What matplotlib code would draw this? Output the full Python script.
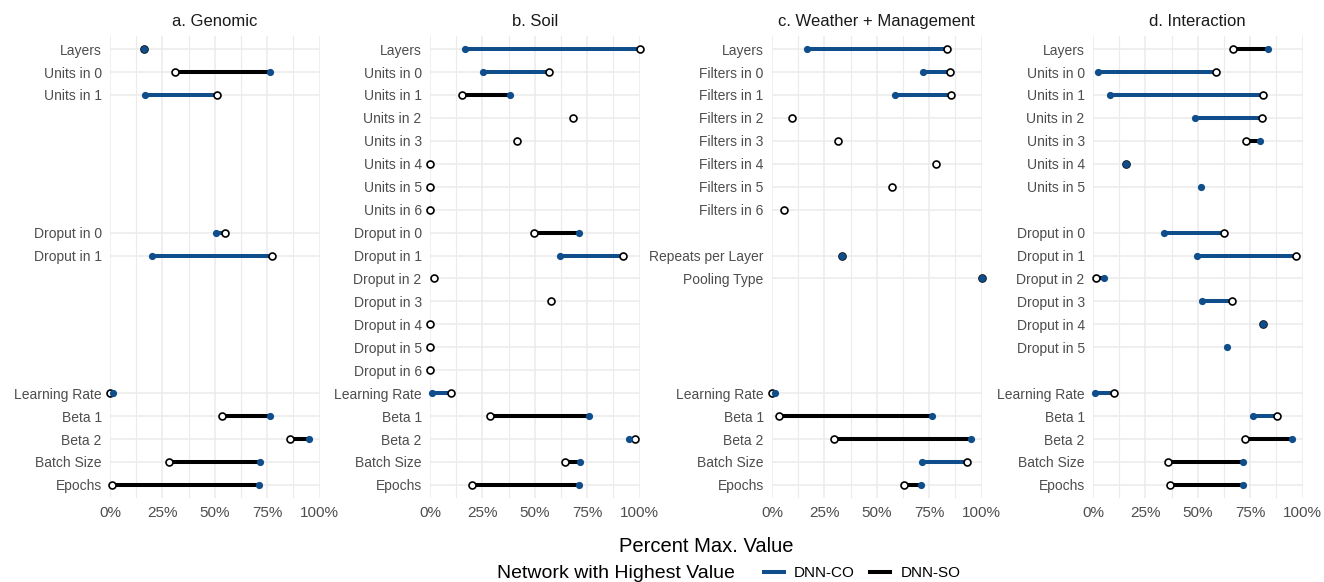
import numpy as np
import matplotlib
matplotlib.use("Agg")
import matplotlib.pyplot as plt
from matplotlib.lines import Line2D
from matplotlib.ticker import FixedLocator, PercentFormatter

plt.rcParams['font.family'] = ['Liberation Sans', 'DejaVu Sans']

BLUE = '#104E8B'
GRID = '#EBEBEB'

# shared row slots (categorical y scale, same for every panel)
SLOTS = (['layers'] + ['size%d' % i for i in range(7)] + ['reg%d' % i for i in range(7)]
         + ['lr', 'beta1', 'beta2', 'batch', 'epochs'])
OPT_SLOTS = ['lr', 'beta1', 'beta2', 'batch', 'epochs']
OPT_LABELS = ['Learning Rate', 'Beta 1', 'Beta 2', 'Batch Size', 'Epochs']
nan = np.nan

# a. Genomic
gen_slots = ['layers', 'size0', 'size1', 'reg0', 'reg1'] + OPT_SLOTS
gen_labels = ['Layers', 'Units in 0', 'Units in 1', 'Droput in 0', 'Droput in 1'] + OPT_LABELS
gen_co = [16.4, 31.0, 51.2, 54.7, 77.2, 0.0, 53.3, 86.1, 28.3, 1.1]
gen_so = [16.4, 76.4, 16.7, 50.6, 20.0, 1.3, 76.1, 95.0, 71.6, 71.3]

# b. Soil
soil_slots = ['layers'] + ['size%d' % i for i in range(7)] + ['reg%d' % i for i in range(7)] + OPT_SLOTS
soil_labels = (['Layers'] + ['Units in %d' % i for i in range(7)]
               + ['Droput in %d' % i for i in range(7)] + OPT_LABELS)
soil_co = [100, 56.7, 15.1, 68.4, 41.7, 0, 0, 0, 49.5, 92.1, 1.9, 57.8, 0, 0, 0,
           10.0, 28.6, 97.8, 64.3, 19.8]
soil_so = [16.7, 25.1, 38.4, nan, nan, nan, nan, nan, 71.1, 61.9, nan, nan, nan, nan, nan,
           1.0, 76.0, 94.8, 71.4, 71.1]

# c. Weather + Management
wm_slots = ['layers'] + ['size%d' % i for i in range(7)] + ['reg1', 'reg2'] + OPT_SLOTS
wm_labels = (['Layers'] + ['Filters in %d' % i for i in range(7)]
             + ['Repeats per Layer', 'Pooling Type'] + OPT_LABELS)
wm_co = [83.6, 84.9, 85.4, 9.4, 31.4, 78.2, 57.4, 5.8, 33.6, 100, 0.0, 3.5, 29.5, 93.1, 63.0]
wm_so = [16.6, 72.2, 58.9, nan, nan, nan, nan, nan, 33.6, 100, 1.2, 76.2, 95.0, 71.5, 71.3]

# d. Interaction
int_slots = ['layers'] + ['size%d' % i for i in range(6)] + ['reg%d' % i for i in range(6)] + OPT_SLOTS
int_labels = (['Layers'] + ['Units in %d' % i for i in range(6)]
              + ['Droput in %d' % i for i in range(6)] + OPT_LABELS)
int_co = [66.7, 58.9, 80.9, 80.6, 73.2, 15.9, nan, 62.4, 97.0, 1.4, 66.2, 81.0, nan,
          9.9, 87.9, 72.6, 35.8, 36.6]
int_so = [83.6, 2.4, 8.3, 48.6, 79.6, 15.9, 51.7, 34.1, 49.4, 5.1, 52.2, 81.0, 63.7,
          0.8, 76.1, 95.1, 71.8, 71.5]

panels = [
    ('a. Genomic', gen_slots, gen_labels, gen_co, gen_so),
    ('b. Soil', soil_slots, soil_labels, soil_co, soil_so),
    ('c. Weather + Management', wm_slots, wm_labels, wm_co, wm_so),
    ('d. Interaction', int_slots, int_labels, int_co, int_so),
]

W, H = 1324, 582
fig = plt.figure(figsize=(W / 100, H / 100), dpi=100)
lefts = [110, 430, 772, 1093]
pw = 209.6
top, bot = 36, 498

for left, (title, slots, labels, co, so) in zip(lefts, panels):
    ax = fig.add_axes([left / W, 1 - bot / H, pw / W, (bot - top) / H])
    y = np.array([SLOTS.index(s) for s in slots])
    co = np.array(co, dtype=float)
    so = np.array(so, dtype=float)

    # segment coloured by the network with the higher value
    for yi, c, s in zip(y, co, so):
        if np.isnan(c) or np.isnan(s):
            continue
        col = BLUE if c > s else 'black'
        ax.plot([c, s], [yi, yi], color=col, lw=2.9, solid_capstyle='butt', zorder=2)

    ax.plot(co, y, 'o', ms=5.0, mfc='white', mec='black', mew=1.2, ls='none',
            zorder=3, clip_on=False)
    ax.plot(so, y, 'o', ms=5.2, mfc=BLUE, mec='none', ls='none',
            zorder=4, clip_on=False)

    ax.set_xlim(0, 100)
    ax.set_ylim(len(SLOTS) - 1 + 0.57, -0.57)
    ax.set_yticks(y)
    ax.set_yticklabels(labels)
    ax.xaxis.set_major_locator(FixedLocator([0, 25, 50, 75, 100]))
    ax.xaxis.set_minor_locator(FixedLocator([12.5, 37.5, 62.5, 87.5]))
    ax.xaxis.set_major_formatter(PercentFormatter(decimals=0))
    ax.grid(True, which='major', color=GRID, lw=1.1, zorder=0)
    ax.grid(True, which='minor', axis='x', color=GRID, lw=0.8, zorder=0)
    ax.set_axisbelow(True)
    for sp in ax.spines.values():
        sp.set_visible(False)
    ax.tick_params(axis='both', which='both', length=0)
    ax.tick_params(axis='y', labelsize=10, labelcolor='#4D4D4D', pad=6)
    ax.tick_params(axis='x', labelsize=11, labelcolor='#4D4D4D', pad=6)
    ax.set_title(title, fontsize=12, color='#1A1A1A', pad=7)

fig.text(706 / W, 1 - 547 / H, 'Percent Max. Value', ha='center', va='center', fontsize=14.5)
fig.text(735 / W, 1 - 573 / H, 'Network with Highest Value', ha='right', va='center',
         fontsize=14)
handles = [Line2D([], [], color=BLUE, lw=2.9), Line2D([], [], color='black', lw=2.9)]
fig.legend(handles, ['DNN-CO', 'DNN-SO'], ncol=2, loc='center left',
           bbox_to_anchor=(756 / W, 1 - 573 / H), frameon=False, fontsize=11,
           handlelength=1.3, handletextpad=0.7, columnspacing=1.0, borderpad=0)

fig.savefig('out.png', dpi=100)
